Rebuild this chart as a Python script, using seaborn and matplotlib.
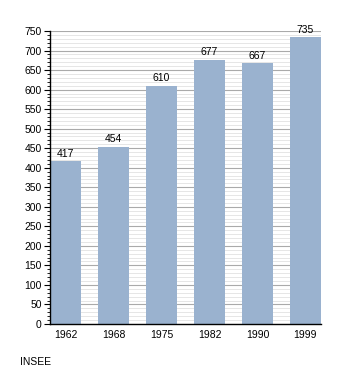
import matplotlib
matplotlib.use("Agg")
import matplotlib.pyplot as plt
import seaborn as sns
import pandas as pd
from matplotlib.ticker import MultipleLocator

years = ["1962", "1968", "1975", "1982", "1990", "1999"]
population = [417, 454, 610, 677, 667, 735]

df = pd.DataFrame({"year": years, "pop": population})

sns.set_style("white")
plt.rcParams['font.family'] = ['Liberation Sans', 'DejaVu Sans']
plt.rcParams['text.color'] = 'black'
plt.rcParams['xtick.color'] = 'black'
plt.rcParams['ytick.color'] = 'black'
plt.rcParams['axes.labelcolor'] = 'black'

fig = plt.figure(figsize=(3.5, 3.73), dpi=100)
ax = fig.add_axes([50/350, 49/373, 271/350, 293/373])

sns.barplot(data=df, x="year", y="pop", color="#9ab2cf", saturation=1,
            width=0.65, ax=ax, zorder=2, linewidth=0, edgecolor="none")

ax.set_xlim(-0.325, len(years) - 1 + 0.325)
ax.set_ylim(0, 750)
ax.yaxis.set_major_locator(MultipleLocator(50))
ax.yaxis.set_minor_locator(MultipleLocator(10))
ax.grid(which="major", axis="y", color="#aaaaaa", linewidth=0.8, zorder=0)
ax.grid(which="minor", axis="y", color="#e2e2e2", linewidth=0.6, zorder=0)
ax.set_axisbelow(True)

for s in ["top", "right"]:
    ax.spines[s].set_visible(False)
for s in ["left", "bottom"]:
    ax.spines[s].set_color("black")
    ax.spines[s].set_linewidth(1.0)
    ax.spines[s].set_zorder(5)

ax.tick_params(axis="y", which="major", length=4, width=0.8, left=True, labelsize=7.5, pad=2, colors="black")
ax.tick_params(axis="y", which="minor", length=2, width=0.6, left=True, colors="black")
ax.tick_params(axis="x", length=0, labelsize=7.5, pad=4, colors="black")
ax.set_xlabel("")
ax.set_ylabel("")

for i, v in enumerate(population):
    ax.text(i, v + 6, str(v), ha="center", va="bottom", fontsize=7.5, zorder=4, color="black")

fig.text(20/350, 1 - 362/373, "INSEE", fontsize=7.5, va="center", ha="left", color="black")

fig.savefig("out.png", dpi=100)
